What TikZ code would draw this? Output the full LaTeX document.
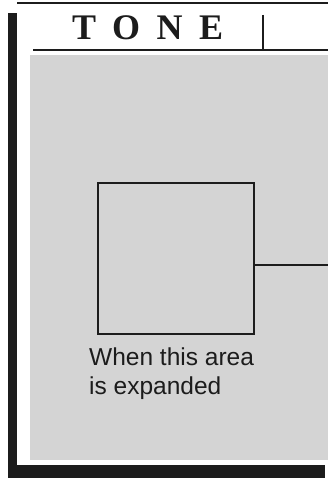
\documentclass[tikz,border=0pt]{standalone}
\usepackage{fontspec}
\setsansfont{Liberation Sans}
\newfontfamily\titlefont[LetterSpace=46]{Liberation Serif}
\usetikzlibrary{positioning}
\definecolor{ToneInk}{HTML}{1C1C1C}
\definecolor{ToneGray}{HTML}{D4D4D4}

\begin{document}
\begin{tikzpicture}[x=1pt,y=-1pt,
  rule/.style={draw=ToneInk,line width=1.8pt},
  area/.style={draw=ToneInk,line width=1.7pt,fill=ToneGray,inner sep=0pt,
               minimum width=156pt,minimum height=151pt},
  title/.style={font=\titlefont\bfseries\fontsize{36}{36}\selectfont,
                text=ToneInk,inner sep=0pt},
  caption/.style={font=\sffamily\fontsize{24.5}{29}\selectfont,align=left,
                  text=ToneInk,inner sep=0pt},
  lead/.style={draw=ToneInk,line width=1.7pt}
]
  \useasboundingbox (0,0) rectangle (328,481);
  % shadow and panel
  \fill[ToneInk] (8,13) rectangle (17,478);
  \fill[ToneInk] (8,465) rectangle (325,478);
  \fill[white] (17,3) rectangle (328,465);
  \fill[ToneGray] (30,55) rectangle (328,460);
  % header
  \draw[rule] (17,3) -- (328,3);
  \draw[rule] (33,50) -- (328,50);
  \draw[rule] (263,15) -- (263,50);
  \node[title,anchor=base west] (tone) at (72,40) {TONE};
  % expanded area
  \node[area] (zone) at (176,258.5) {};
  \coordinate (edge) at (328,265);
  \draw[lead] (edge -| zone.east) -- (edge);
  \node[caption,anchor=north west] (note) at (89,348) {When this area\\is expanded};
\end{tikzpicture}
\end{document}
